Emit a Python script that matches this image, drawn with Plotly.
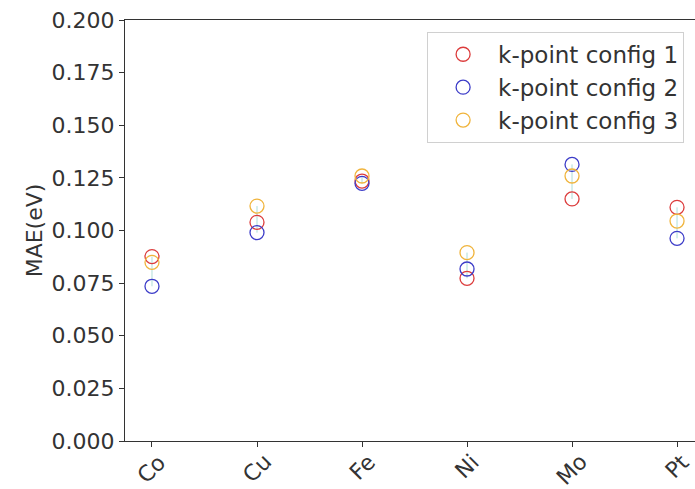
import plotly.graph_objects as go

# MAE per element for three k-point sampling configurations
elements = ["Co", "Cu", "Fe", "Ni", "Mo", "Pt"]
config1 = [0.0876, 0.1039, 0.1235, 0.0773, 0.1150, 0.1110]
config2 = [0.0735, 0.0990, 0.1224, 0.0817, 0.1314, 0.0963]
config3 = [0.0849, 0.1116, 0.1259, 0.0895, 0.1259, 0.1045]
series_names = ["k-point config 1", "k-point config 2", "k-point config 3"]
colors = ["#dc3c3c", "#3c3cc8", "#f0b43c"]
y_ticks = [0, 0.025, 0.05, 0.075, 0.1, 0.125, 0.15, 0.175, 0.2]

xi = list(range(len(elements)))
fig = go.Figure()

# faint vertical spread line for each element
for i in xi:
    vals = [config1[i], config2[i], config3[i]]
    fig.add_trace(go.Scatter(
        x=[i, i], y=[min(vals), max(vals)], mode="lines",
        line=dict(color="rgba(120,200,190,0.6)", width=1),
        showlegend=False, hoverinfo="skip"))

for name, vals, c in zip(series_names, [config1, config2, config3], colors):
    fig.add_trace(go.Scatter(
        x=xi, y=vals, mode="markers", name=name,
        marker=dict(symbol="circle-open", size=14, color=c, line=dict(width=1.3, color=c))))

txt = "#333333"
font = dict(family="DejaVu Sans", size=22, color=txt)

# rotated category labels, centred under each tick
for i, lab in zip(xi, elements):
    fig.add_annotation(x=i, xref="x", y=0, yref="paper", text=lab, showarrow=False,
                       textangle=-45, xanchor="center", yanchor="top", yshift=-6,
                       font=font)

fig.update_layout(
    width=695, height=489,
    margin=dict(l=125, r=0, t=20, b=48),
    paper_bgcolor="white", plot_bgcolor="white",
    font=font,
    showlegend=True,
    legend=dict(x=0.53, y=0.972, xanchor="left", yanchor="top",
                bgcolor="white", bordercolor="#d0d0d0", borderwidth=1,
                font=dict(family="DejaVu Sans", size=23, color=txt),
                itemwidth=60, tracegroupgap=0),
    xaxis=dict(range=[-0.257, 5.171], tickmode="array", tickvals=xi, ticktext=elements,
               showticklabels=False, showgrid=False, zeroline=False,
               showline=True, linecolor=txt, linewidth=1, mirror=True,
               ticks="outside", ticklen=5, tickcolor=txt),
    yaxis=dict(range=[0, 0.2], tickmode="array", tickvals=y_ticks,
               ticktext=[f"{v:.3f}" for v in y_ticks],
               showgrid=False, zeroline=False,
               showline=True, linecolor=txt, linewidth=1, mirror=False,
               ticks="outside", ticklen=5, tickcolor=txt,
               title=dict(text="MAE(eV)", standoff=2, font=font)),
)

fig.write_html("out.html")
